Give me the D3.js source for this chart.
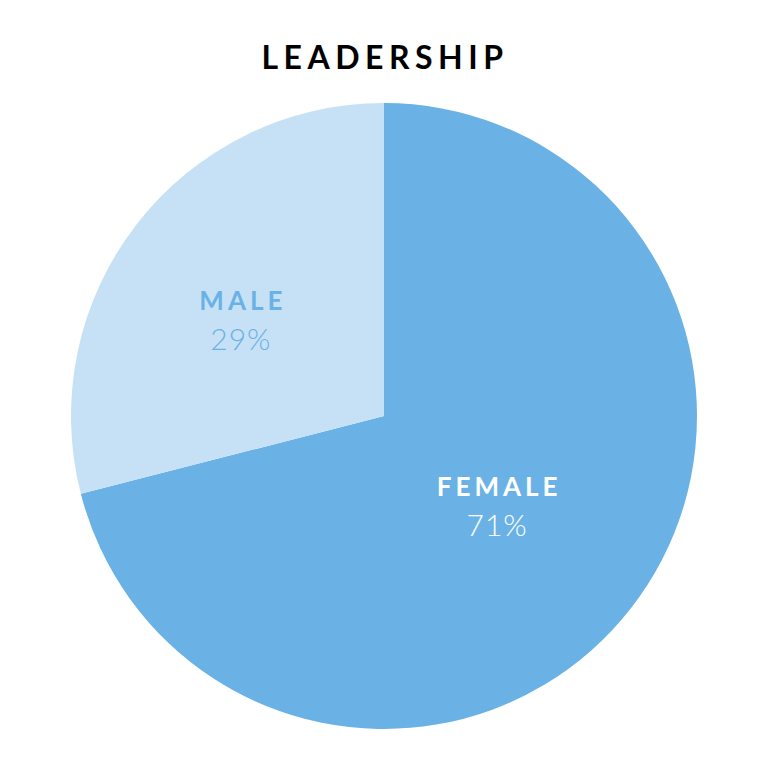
<!DOCTYPE html>
<html><head><meta charset="utf-8">
<script src="https://cdn.jsdelivr.net/npm/d3@7"></script>
<style>body{margin:0;background:#fff}</style>
</head><body>
<svg id="c" width="768" height="768"></svg>
<script>
const title = "LEADERSHIP";
const categories = ["FEMALE", "MALE"];
const values = [71, 29];
const colors = ["#6AB2E5", "#C6E1F5"];
const labelColors = ["#FFFFFF", "#6AB2E5"];
const labelRadius = [144, 173];
const labelAngleShift = [0.4, -3.6];

const svg = d3.select("#c");
const cx = 384, cy = 416, R = 313;

svg.append("text").attr("x", cx + 1).attr("y", 69).attr("text-anchor", "middle")
  .attr("font-family", "Lato").attr("font-weight", 700).attr("font-size", 32)
  .attr("letter-spacing", 5.5).attr("fill", "#000").text(title);

const data = categories.map((c, i) => ({cat: c, value: values[i], i}));
const pie = d3.pie().value(d => d.value).sort(null);
const arcs = pie(data);
const arc = d3.arc().innerRadius(0).outerRadius(R);
const g = svg.append("g").attr("transform", `translate(${cx},${cy})`);
g.selectAll("path").data(arcs).join("path").attr("d", arc).attr("fill", d => colors[d.data.i]);

arcs.forEach(d => {
  const i = d.data.i;
  const mid = (d.startAngle + d.endAngle) / 2 + labelAngleShift[i] * Math.PI / 180;
  const [x, y] = d3.pointRadial(mid, labelRadius[i]);
  const t = g.append("g").attr("transform", `translate(${x},${y})`);
  t.append("text").attr("text-anchor", "middle").attr("y", -9).attr("x", 2)
    .attr("font-family", "Lato").attr("font-weight", 700).attr("font-size", 26)
    .attr("letter-spacing", 4).attr("fill", labelColors[i]).text(d.data.cat);
  t.append("text").attr("text-anchor", "middle").attr("y", 31)
    .attr("font-family", "Lato").attr("font-weight", 300).attr("font-size", 30)
    .attr("letter-spacing", 1).attr("fill", labelColors[i]).text(d.data.value + "%");
});
</script>
</body></html>
